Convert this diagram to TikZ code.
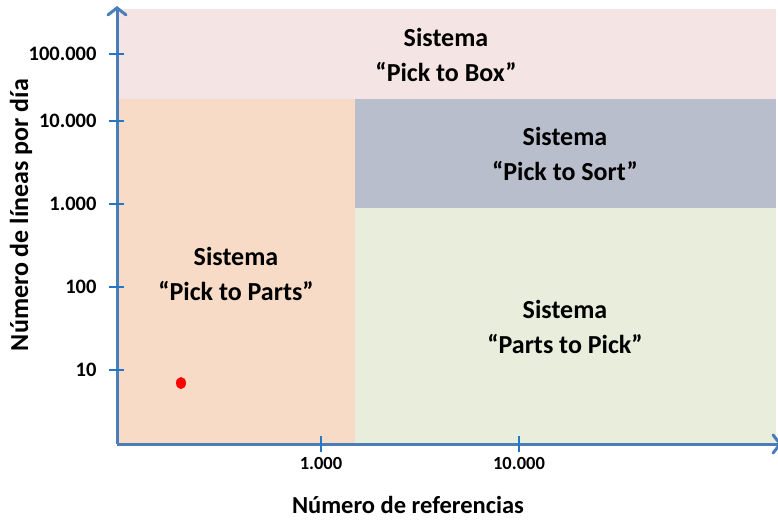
\documentclass[tikz,border=0pt]{standalone}
\usepackage{fontspec}
\setmainfont{Carlito}
\usetikzlibrary{arrows.meta}
\definecolor{cpink}{RGB}{245,228,228}
\definecolor{corange}{RGB}{247,219,198}
\definecolor{cgrey}{RGB}{184,190,203}
\definecolor{cgreen}{RGB}{233,237,220}
\definecolor{caxis}{RGB}{74,126,187}
\definecolor{ctick}{RGB}{36,118,200}
\begin{document}
\begin{tikzpicture}[x=1pt,y=-1pt,
  region/.style={align=center,font=\fontsize{26}{35}\selectfont\bfseries},
  ylab/.style={anchor=east,font=\fontsize{20.5}{23}\selectfont\bfseries},
  xlab/.style={anchor=north,font=\fontsize{18.5}{21}\selectfont\bfseries},
  axislab/.style={font=\fontsize{24.5}{28}\selectfont\bfseries},
  tickline/.style={draw=ctick,line width=2.4pt},
  axisline/.style={draw=caxis,line width=3pt,-{Straight Barb[length=7pt,width=18pt,line cap=round]}}]
\useasboundingbox (0,0) rectangle (778,520);
\clip (0,0) rectangle (778,520);
% regions
\fill[cpink] (118,9) rectangle (776,99);
\fill[corange] (118,99) rectangle (355,443);
\fill[cgrey] (355,99) rectangle (776,208);
\fill[cgreen] (355,208) rectangle (776,443);
% region labels
\node[region] (box) at (446,55) {Sistema\\“Pick to Box”};
\node[region] (sort) at (565,154) {Sistema\\“Pick to Sort”};
\node[region] (parts) at (236,274) {Sistema\\“Pick to Parts”};
\node[region] (pick) at (565,327) {Sistema\\“Parts to Pick”};
% axes
\coordinate (o) at (117,444);
\coordinate (ytop) at (117,6);
\coordinate (xend) at (782,444);
\draw[axisline] (o) -- (ytop);
\draw[axisline] (o) -- (xend);
% y ticks
\foreach \y/\t/\n in {54/100.000/ya,121/10.000/yb,204/1.000/yc,287/100/yd,370/10/ye}{
  \coordinate (\n l) at (109,\y);
  \coordinate (\n r) at (124,\y);
  \draw[tickline] (\n l) -- (\n r);
  \node[ylab] (\n) at (100,\y) {\t};
}
% x ticks
\foreach \x/\t/\n in {321/1.000/xa,519/10.000/xb}{
  \coordinate (\n t) at (\x,436);
  \coordinate (\n b) at (\x,452);
  \draw[tickline] (\n t) -- (\n b);
  \node[xlab] (\n) at (\x,454) {\t};
}
% axis labels
\node[axislab] (xtitle) at (408,505) {Número de referencias};
\node[axislab,font=\fontsize{26}{30}\selectfont\bfseries,rotate=90] (ytitle) at (21,215) {Número de líneas por día};
% red dot
\fill[red] (181,383) ellipse[x radius=5,y radius=6];
\node[inner sep=0pt] (dot) at (181,383) {};
\end{tikzpicture}
\end{document}
